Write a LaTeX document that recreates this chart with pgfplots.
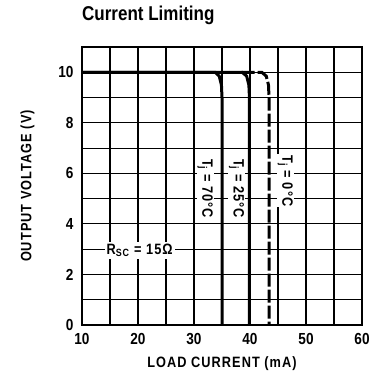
\documentclass[border=0pt]{standalone}
\usepackage{fontspec}
\setmainfont[FakeStretch=0.85]{Liberation Sans}
\newfontfamily\lblfont[FakeStretch=0.85, LetterSpace=7]{Liberation Sans}
\usepackage{pgfplots}
\pgfplotsset{compat=1.18}

\begin{document}
\begin{tikzpicture}
\begin{axis}[
    name=ax,
    scale only axis,
    width=280pt, height=278pt,
    xmin=10, xmax=60, ymin=0, ymax=11,
    xtick={10,20,...,60}, minor xtick={15,25,...,55},
    ytick={0,2,...,10}, minor ytick={1,3,...,11},
    grid=both,
    major grid style={black, line width=1.1pt},
    minor grid style={black, line width=1.1pt},
    axis line style={line width=1.6pt},
    tick style={draw=none},
    /pgf/number format/assume math mode=true,
    ticklabel style={font=\fontsize{16}{17}\selectfont\bfseries},
    xticklabel style={yshift=-5pt},
    yticklabel style={xshift=-5pt},
    xlabel={LOAD CURRENT (mA)},
    ylabel={OUTPUT VOLTAGE (V)},
    label style={font=\lblfont\fontsize{15}{16}\selectfont\bfseries},
    xlabel style={yshift=-5pt},
    ylabel style={yshift=17pt},
]
\addplot[black, line width=3pt] coordinates {
    (10,10) (33.8,10) (34.5,9.85) (34.9,9.5) (35,9) (35,0)};
\addplot[black, line width=3pt] coordinates {
    (10,10) (38.6,10) (39.4,9.85) (39.8,9.5) (39.9,9) (39.9,0)};
\addplot[black, line width=3pt, dash pattern=on 13pt off 3pt] coordinates {
    (38.5,10) (42.1,10) (42.9,9.85) (43.3,9.5) (43.4,9) (43.4,0)};
\node[rotate=-90, font=\lblfont\fontsize{15}{16}\selectfont\bfseries, fill=white, inner sep=1pt]
    at (axis cs:32.0,5.4) {T\textsubscript{j} = 70°C};
\node[rotate=-90, font=\lblfont\fontsize{15}{16}\selectfont\bfseries, fill=white, inner sep=1pt]
    at (axis cs:37.6,5.4) {T\textsubscript{j} = 25°C};
\node[rotate=-90, font=\lblfont\fontsize{15}{16}\selectfont\bfseries, fill=white, inner sep=1pt]
    at (axis cs:46.3,5.7) {T\textsubscript{j} = 0°C};
\node[font=\lblfont\fontsize{15}{16}\selectfont\bfseries, fill=white, inner sep=2pt]
    at (axis cs:20.3,2.95) {R\textsubscript{SC} = 15Ω};
\end{axis}
\node[anchor=west, inner sep=0pt, font=\fontsize{20}{22}\selectfont\bfseries]
    at ([yshift=32pt]ax.north west) {Current Limiting};
\path[draw=none] ([shift={(-82pt,-52pt)}]ax.south west) rectangle ([shift={(10pt,47pt)}]ax.north east);
\end{tikzpicture}
\end{document}
